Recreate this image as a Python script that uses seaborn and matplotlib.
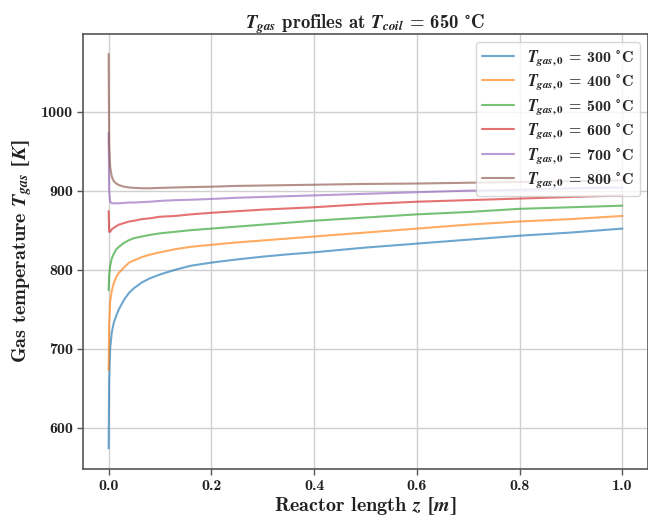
import matplotlib
matplotlib.use("Agg")
import matplotlib.pyplot as plt
import seaborn as sns
import pandas as pd

# Axial positions along the reactor [m]
z = [0.0, 0.001, 0.003, 0.006, 0.01, 0.015, 0.02, 0.03, 0.04, 0.05, 0.065, 0.08,
     0.1, 0.13, 0.16, 0.2, 0.25, 0.3, 0.35, 0.4, 0.5, 0.6, 0.7, 0.8, 0.9, 1.0]

# Gas temperature profiles [K] for each inlet temperature
T_300 = [574, 660, 700, 720, 733, 742, 750, 762, 771, 777, 784, 789,
         794, 800, 805, 809, 813, 816.5, 819.5, 822, 828, 833, 838, 843, 847, 852]
T_400 = [673, 730, 760, 773, 783, 791, 796, 803, 809, 812, 816, 819,
         822, 826, 829, 831.5, 834.5, 837, 839.5, 842, 847, 852, 857, 861, 864, 868]
T_500 = [774, 792, 805, 814, 820, 826, 829, 834, 837.5, 840, 842, 844,
         846, 848, 850, 852, 854.5, 857, 859.5, 862, 866, 870, 873, 877, 879, 881]
T_600 = [874, 848, 848, 851, 853, 855, 857, 859, 861, 862, 864, 865,
         867, 868, 870, 872, 874, 876, 877.5, 879, 883, 886, 888, 890, 892, 894]
T_700 = [973, 900, 886, 884, 884, 884, 884, 884.5, 885, 885, 885.5, 886,
         887, 888, 888.5, 889.5, 891, 892, 893, 894, 896, 898, 900, 901, 903, 904]
T_800 = [1073, 960, 930, 918, 912, 909, 907, 905, 904, 903.5, 903, 903,
         903.5, 904, 904.5, 905, 906, 906.5, 907, 907.5, 908.5, 909, 910, 911, 912, 913]

inlet_temps = [300, 400, 500, 600, 700, 800]
profiles = [T_300, T_400, T_500, T_600, T_700, T_800]


def case_label(t_in):
    return r"$T_{gas,0}$ = " + f"{t_in} " + r"$^{\circ}$C"


frames = []
for t_in, prof in zip(inlet_temps, profiles):
    frames.append(pd.DataFrame({"z": z, "T": prof, "case": case_label(t_in)}))
df = pd.concat(frames, ignore_index=True)

sns.set_style("whitegrid")
plt.rcParams["font.family"] = ["cmb10", "DejaVu Serif"]
plt.rcParams["font.weight"] = "bold"
plt.rcParams["mathtext.fontset"] = "custom"
plt.rcParams["mathtext.it"] = "STIXGeneral:italic:bold"
plt.rcParams["mathtext.rm"] = "STIXGeneral:bold"
plt.rcParams["mathtext.bf"] = "STIXGeneral:bold"
plt.rcParams["axes.unicode_minus"] = False

fig = plt.figure(figsize=(6.48, 5.17), dpi=100)
ax = fig.add_axes([0.128, 0.093, 0.872, 0.841])

palette = sns.color_palette("tab10", 6)
sns.lineplot(data=df, x="z", y="T", hue="case", palette=palette,
             sort=False, estimator=None, linewidth=1.5, alpha=0.65, ax=ax,
             legend=False)

handles = []
for line, t_in in zip(ax.get_lines(), inlet_temps):
    line.set_label(case_label(t_in))
    handles.append(line)
ax.legend(handles=handles, loc="upper right", fontsize=11.5,
          frameon=True, framealpha=0.8, edgecolor="#cccccc",
          fancybox=True, handlelength=2.0, labelspacing=0.3,
          borderpad=0.4)

ax.set_xlim(-0.05, 1.05)
ax.set_ylim(548, 1098)
ax.set_xticks([0.0, 0.2, 0.4, 0.6, 0.8, 1.0])
ax.set_xticklabels(["0.0", "0.2", "0.4", "0.6", "0.8", "1.0"])
ax.set_yticks([600, 700, 800, 900, 1000])

ax.grid(True, color="#d0d0d0", linewidth=1.0)
for side in ["top", "right", "left", "bottom"]:
    ax.spines[side].set_color("#555555")
    ax.spines[side].set_linewidth(1.2)
ax.tick_params(axis="both", which="major", labelsize=11.5, length=4,
               width=1.0, color="#555555", left=True, bottom=True,
               direction="out", labelcolor="#222222", pad=3)

ax.set_xlabel(r"Reactor length $z$ $[m]$", fontsize=14.5, color="#222222",
              labelpad=2)
ax.set_ylabel(r"Gas temperature $T_{gas}$ $[K]$", fontsize=14.5,
              color="#222222", labelpad=5)
ax.set_title(r"$T_{gas}$ profiles at $T_{coil}$ = 650 $^{\circ}$C",
             fontsize=13.5, color="#222222", pad=4)

fig.savefig("out.png", dpi=100)
